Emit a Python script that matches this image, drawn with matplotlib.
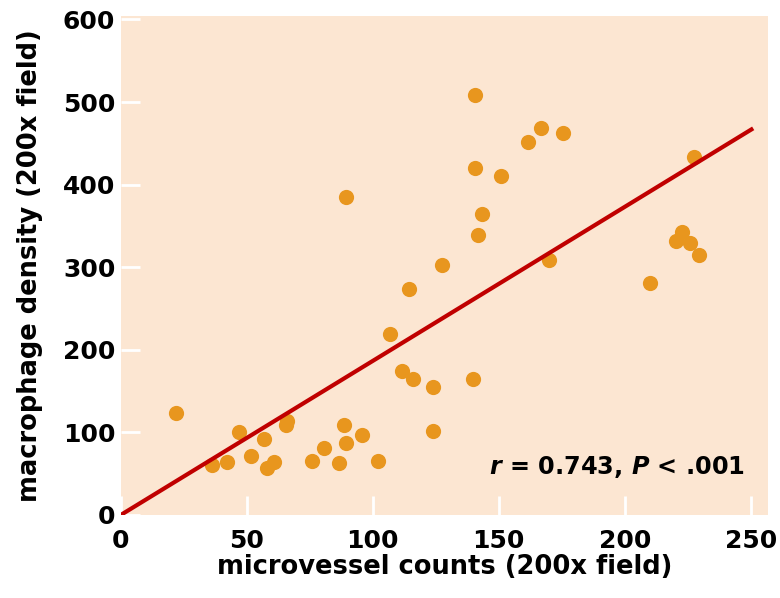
import matplotlib.pyplot as plt
import numpy as np

# values
microvessel = [22, 36, 42, 47, 51.5, 56.7, 57.8, 60.7, 66, 65.7,
               75.7, 80.7, 86.6, 88.5, 89.3, 89.2, 95.9, 102, 106.7, 111.5,
               116, 123.7, 123.7, 139.6, 114.4, 127.5, 140.6, 140.5, 141.8, 143.5,
               151, 161.5, 166.7, 175.5, 170, 210, 220.3, 222.8, 225.8, 229.5,
               227.5]
macrophage = [123, 61, 64, 100, 71, 92, 56.5, 64, 114, 109,
              65, 81.5, 62.6, 109, 87.5, 384.6, 97, 65, 219, 174,
              164, 155, 102, 165, 274, 303, 509, 420, 339, 364,
              411, 452, 469, 462, 309, 281, 332, 343, 329, 315,
              433]
fit_x = [0, 251]
fit_slope = 1.865

bg = '#fce6d2'
dot = '#e8961e'
line_red = '#c00000'

plt.rcParams['font.family'] = ['DejaVu Sans']
plt.rcParams['font.weight'] = 'bold'

fig = plt.figure(figsize=(7.8, 5.98), dpi=100)
ax = fig.add_axes([0.155, 0.139, 0.83, 0.834])
ax.set_facecolor(bg)

ax.scatter(microvessel, macrophage, s=120, color=dot, zorder=2, linewidths=0)
fx = np.array(fit_x)
ax.plot(fx, fit_slope * fx, color=line_red, lw=3, zorder=3, solid_capstyle='butt')

ax.set_xlim(0, 257)
ax.set_ylim(0, 604)
ax.set_xticks([0, 50, 100, 150, 200, 250])
ax.set_yticks([0, 100, 200, 300, 400, 500, 600])
for s in ax.spines.values():
    s.set_visible(False)
ax.tick_params(direction='in', length=14, width=2, color='white', labelsize=18)
ax.tick_params(axis='x', pad=10)
ax.tick_params(axis='y', pad=4)
for lab in ax.get_xticklabels() + ax.get_yticklabels():
    lab.set_fontweight('bold')

ax.set_xlabel('microvessel counts (200x field)', fontsize=18.5, fontweight='bold', labelpad=1)
ax.set_ylabel('macrophage density (200x field)', fontsize=18.5, fontweight='bold', labelpad=14)

ax.text(247.6, 50, r'$\boldsymbol{r}$ = 0.743, $\boldsymbol{P}$ < .001', fontsize=17.3,
        fontweight='bold', ha='right', va='baseline')

fig.savefig('out.png', dpi=100)
